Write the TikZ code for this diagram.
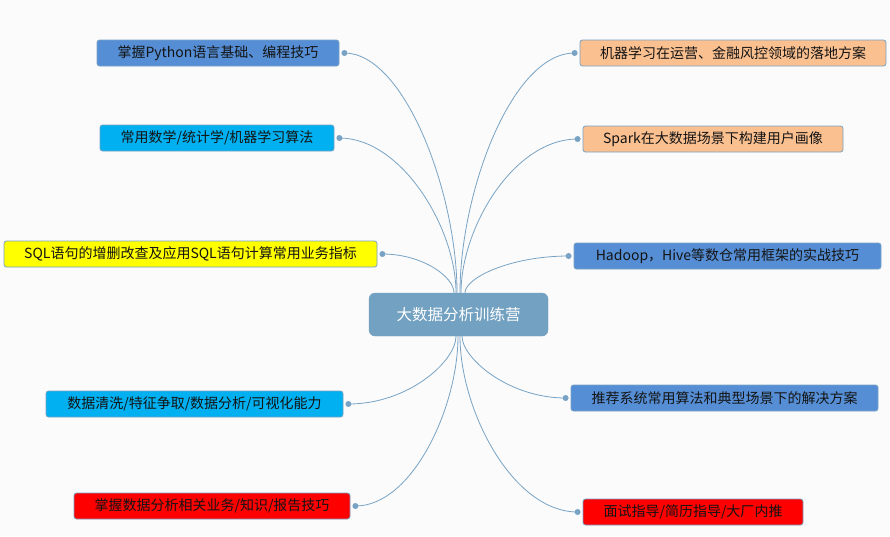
\documentclass[tikz,border=0pt]{standalone}
\usepackage{fontspec}
\setmainfont{Noto Sans CJK SC}
\definecolor{bgc}{RGB}{251,251,251}
\definecolor{linec}{RGB}{120,163,196}
\definecolor{rootc}{RGB}{115,161,193}
\definecolor{blueb}{RGB}{85,142,213}
\definecolor{cyanb}{RGB}{0,176,240}
\definecolor{yellowb}{RGB}{255,255,0}
\definecolor{redb}{RGB}{255,0,0}
\definecolor{orangeb}{RGB}{250,192,144}
\definecolor{txt}{RGB}{20,20,20}
\begin{document}
\begin{tikzpicture}[x=1pt,y=-1pt,
 leaf/.style={draw=linec, line width=0.8pt, rounded corners=2.5pt, minimum height=26pt, inner sep=0pt, text=txt, font=\fontsize{14}{17}\selectfont},
 root/.style={fill=rootc, draw=rootc, rounded corners=6pt, minimum width=179pt, minimum height=43pt, inner sep=0pt, text=white, font=\fontsize{15.5}{19}\selectfont},
 conn/.style={draw=linec, line width=0.8pt},
 dot/.style={fill=linec, circle, inner sep=0pt, minimum size=6pt}]
\fill[bgc] (0,0) rectangle (890,536);
\useasboundingbox (0,0) rectangle (890,536);

\node[root] (root) at (458.5,314.5) {大数据分析训练营};
\node[leaf, fill=blueb, minimum width=242pt] (n1) at (218,53) {掌握Python语言基础、编程技巧};
\node[leaf, fill=cyanb, minimum width=234pt] (n2) at (217,138) {常用数学/统计学/机器学习算法};
\node[leaf, fill=yellowb, minimum width=373pt] (n3) at (190.5,254) {SQL语句的增删改查及应用SQL语句计算常用业务指标};
\node[leaf, fill=cyanb, minimum width=297pt] (n4) at (194.5,404) {数据清洗/特征争取/数据分析/可视化能力};
\node[leaf, fill=redb, minimum width=276pt] (n5) at (212,506) {掌握数据分析相关业务/知识/报告技巧};
\node[leaf, fill=orangeb, minimum width=306pt] (n6) at (733,53) {机器学习在运营、金融风控领域的落地方案};
\node[leaf, fill=orangeb, minimum width=260pt] (n7) at (713,139) {Spark在大数据场景下构建用户画像};
\node[leaf, fill=blueb, minimum width=307pt] (n8) at (727.5,256) {Hadoop，Hive等数仓常用框架的实战技巧};
\node[leaf, fill=blueb, minimum width=307pt] (n9) at (724.5,398) {推荐系统常用算法和典型场景下的解决方案};
\node[leaf, fill=redb, minimum width=220pt] (n10) at (693,512) {面试指导/简历指导/大厂内推};

\coordinate (s1) at ([xshift=-1.5pt]root.north);
\coordinate (s2) at ([xshift=-2.5pt]root.north);
\coordinate (s3) at ([xshift=-4.5pt]root.north);
\coordinate (s6) at ([xshift=1.5pt]root.north);
\coordinate (s7) at ([xshift=2.5pt]root.north);
\coordinate (s8) at ([xshift=6.5pt]root.north);
\coordinate (s4) at ([xshift=-2.5pt]root.south);
\coordinate (s5) at ([xshift=-0.5pt]root.south);
\coordinate (s10) at ([xshift=1.5pt]root.south);
\coordinate (s9) at ([xshift=3.5pt]root.south);

\coordinate (d1) at ([xshift=5pt]n1.east);
\coordinate (d2) at ([xshift=5pt]n2.east);
\coordinate (d3) at ([xshift=5pt]n3.east);
\coordinate (d4) at ([xshift=5pt]n4.east);
\coordinate (d5) at ([xshift=5pt]n5.east);
\coordinate (d6) at ([xshift=-5pt]n6.west);
\coordinate (d7) at ([xshift=-5pt]n7.west);
\coordinate (d8) at ([xshift=-5pt]n8.west);
\coordinate (d9) at ([xshift=-5pt]n9.west);
\coordinate (d10) at ([xshift=-5pt]n10.west);

\draw[conn] (s1) .. controls +(0,-100) and +(60,0) .. (d1);
\draw[conn] (s2) .. controls +(0,-65) and +(62,0) .. (d2);
\draw[conn] (s3) .. controls +(0,-16) and +(40,0) .. (d3);
\draw[conn] (s4) .. controls +(0,25) and +(60,0) .. (d4);
\draw[conn] (s5) .. controls +(0,71) and +(57,0) .. (d5);
\draw[conn] (s6) .. controls +(0,-100) and +(-63,0) .. (d6);
\draw[conn] (s7) .. controls +(0,-65) and +(-64,0) .. (d7);
\draw[conn] (s8) .. controls +(0,-15) and +(-58,0) .. (d8);
\draw[conn] (s9) .. controls +(0,22) and +(-57,0) .. (d9);
\draw[conn] (s10) .. controls +(0,74) and +(-65,0) .. (d10);

\foreach \i in {1,...,10} {\node[dot] (dd\i) at (d\i) {};}
\end{tikzpicture}
\end{document}
